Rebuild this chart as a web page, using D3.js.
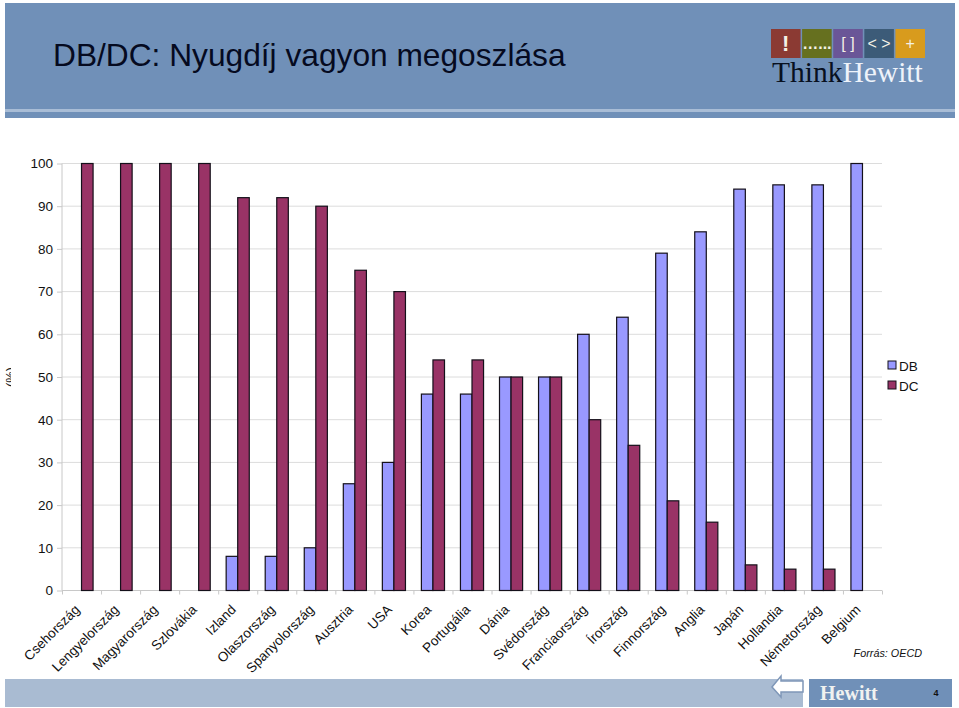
<!DOCTYPE html>
<html>
<head>
<meta charset="utf-8">
<script src="https://cdn.jsdelivr.net/npm/d3@7"></script>
<style>
  html, body { margin: 0; padding: 0; background: #fff; }
  text { font-family: "Liberation Sans", Arial, sans-serif; }
</style>
</head>
<body>
<div id="chart"></div>
<script>
// chart data
const countries = ["Csehország", "Lengyelország", "Magyarország", "Szlovákia", "Izland", "Olaszország",
  "Spanyolország", "Ausztria", "USA", "Korea", "Portugália", "Dánia", "Svédország", "Franciaország",
  "Írország", "Finnország", "Anglia", "Japán", "Hollandia", "Németország", "Belgium"];
const dbValues = [0, 0, 0, 0, 8, 8, 10, 25, 30, 46, 46, 50, 50, 60, 64, 79, 84, 94, 95, 95, 100];
const dcValues = [100, 100, 100, 100, 92, 92, 90, 75, 70, 54, 54, 50, 50, 40, 34, 21, 16, 6, 5, 5, 0];
const yTicks = [0, 10, 20, 30, 40, 50, 60, 70, 80, 90, 100];
const seriesNames = ["DB", "DC"];
const seriesColors = ["#9999ff", "#993366"];
const logoMarks = ["!", "…...", "[ ]", "< >", "+"];
const logoColors = ["#8b3a33", "#66701f", "#6a5697", "#3c5b78", "#d89b1d"];

const width = 959, height = 708;
const margin = { top: 163.5, right: 77, bottom: 117.5, left: 62 };
const labelFont = 13.5;

const svg = d3.select("#chart").append("svg")
  .attr("width", width)
  .attr("height", height)
  .style("display", "block");

// slide header
svg.append("rect").attr("x", 5).attr("y", 3).attr("width", 950).attr("height", 115).attr("fill", "#7090b8");
svg.append("rect").attr("x", 5).attr("y", 109).attr("width", 950).attr("height", 3).attr("fill", "#a9bdd6");
svg.append("text").attr("x", 53).attr("y", 66)
  .attr("font-size", 31.7).attr("fill", "#050a20")
  .text("DB/DC: Nyugdíj vagyon megoszlása");

// logo
const logoX = d3.scaleBand().domain(d3.range(logoMarks.length)).range([771, 925]).paddingInner(0.05);
const logo = svg.append("g");
logo.selectAll("rect").data(logoMarks).enter().append("rect")
  .attr("x", (d, i) => logoX(i))
  .attr("y", 29)
  .attr("width", logoX.bandwidth())
  .attr("height", 29)
  .attr("fill", (d, i) => logoColors[i]);
logo.selectAll("text").data(logoMarks).enter().append("text")
  .attr("x", (d, i) => logoX(i) + logoX.bandwidth() / 2)
  .attr("y", (d, i) => i == 0 ? 51 : 49)
  .attr("text-anchor", "middle")
  .attr("fill", "#f4f1e6")
  .attr("font-size", (d, i) => i == 0 ? 22 : 16)
  .attr("font-weight", (d, i) => i < 2 ? "bold" : "normal")
  .text(d => d);
const brand = svg.append("text").attr("x", 772).attr("y", 82)
  .attr("font-size", 29.5).style("font-family", "Liberation Serif");
brand.append("tspan").attr("fill", "#08101f").text("Think");
brand.append("tspan").attr("fill", "#eef3fa").text("Hewitt");

// scales
const x = d3.scaleBand().domain(countries).range([margin.left, width - margin.right]);
const xEdges = d3.scaleLinear().domain([0, countries.length]).range([margin.left, width - margin.right]);
const y = d3.scaleLinear().domain([0, 100]).range([height - margin.bottom, margin.top]);
const inner = d3.scaleBand().domain(seriesNames).range([0, x.bandwidth()]).paddingInner(0).paddingOuter(0.69);

// gridlines
svg.append("g").selectAll("line").data(yTicks.slice(1)).enter().append("line")
  .attr("x1", margin.left).attr("x2", width - margin.right)
  .attr("y1", d => y(d)).attr("y2", d => y(d))
  .attr("stroke", "#dcdcdc").attr("stroke-width", 1);

// axes
const yAxis = svg.append("g")
  .attr("transform", `translate(${margin.left},0)`)
  .call(d3.axisLeft(y).tickValues(yTicks).tickSize(5).tickPadding(4));
yAxis.selectAll("path,line").attr("stroke", "#c8c8c8");
yAxis.selectAll("text").attr("font-size", labelFont).attr("fill", "#111")
  .style("font-family", "Liberation Sans");
yAxis.select(".domain").attr("d", `M0,${y(100)}V${y(0)}`);

const xTicks = svg.append("g")
  .attr("transform", `translate(0,${y(0)})`)
  .call(d3.axisBottom(xEdges).tickValues(d3.range(countries.length + 1)).tickSize(4).tickFormat(""));
xTicks.selectAll("path,line").attr("stroke", "#c8c8c8");
xTicks.select(".domain").attr("d", `M${margin.left},0H${width - margin.right}`);

const xLabels = svg.append("g")
  .attr("transform", `translate(0,${y(0)})`)
  .call(d3.axisBottom(x).tickSize(0));
xLabels.select(".domain").remove();
xLabels.selectAll("text")
  .attr("font-size", labelFont).attr("fill", "#111")
  .style("font-family", "Liberation Sans")
  .attr("text-anchor", "end")
  .attr("dy", 0).attr("y", 0).attr("x", 0)
  .attr("transform", "translate(-1,20) rotate(-45)");

// bars
[dbValues, dcValues].forEach((values, s) => {
  svg.append("g").selectAll("rect")
    .data(values.map((v, i) => ({ name: countries[i], value: v })).filter(d => d.value > 0))
    .enter()
    .append("rect")
      .attr("x", d => x(d.name) + inner(seriesNames[s]))
      .attr("y", d => y(d.value))
      .attr("width", inner.bandwidth())
      .attr("height", d => y(0) - y(d.value))
      .attr("fill", seriesColors[s])
      .attr("stroke", "#14101a")
      .attr("stroke-width", 1.2);
});

// legend
const legend = svg.append("g").selectAll("g").data(seriesNames).enter().append("g")
  .attr("transform", (d, i) => `translate(888,${361 + i * 20})`);
legend.append("rect").attr("width", 8).attr("height", 8)
  .attr("fill", (d, i) => seriesColors[i]).attr("stroke", "#14101a");
legend.append("text").attr("x", 11).attr("y", 9.5)
  .attr("font-size", labelFont).attr("fill", "#111").text(d => d);

// axis title, most of it is hidden in the original slide
svg.append("defs").append("clipPath").attr("id", "cut")
  .append("rect").attr("x", 3).attr("y", 365).attr("width", 8).attr("height", 24);
svg.append("g").attr("clip-path", "url(#cut)")
  .append("text")
  .attr("transform", "translate(15,377) rotate(-90)")
  .attr("text-anchor", "middle")
  .attr("font-size", 13).attr("fill", "#222")
  .text("(%)");

// source note
svg.append("text").attr("x", 922).attr("y", 657)
  .attr("text-anchor", "end").attr("font-size", 10.8).attr("font-style", "italic").attr("fill", "#111")
  .text("Forrás: OECD");

// footer
svg.append("rect").attr("x", 5).attr("y", 679).attr("width", 798).attr("height", 28).attr("fill", "#a9bbd2");
svg.append("rect").attr("x", 809).attr("y", 679).attr("width", 143).attr("height", 28).attr("fill", "#7090b8");
svg.append("path")
  .attr("d", d3.line()([[772, 687], [781, 676], [781, 681], [803, 681], [803, 692], [781, 692], [781, 697]]) + "Z")
  .attr("fill", "#fff").attr("stroke", "#7f97b8").attr("stroke-width", 1.5);
svg.append("text").attr("x", 820).attr("y", 700)
  .attr("font-size", 20).attr("font-weight", "bold").attr("fill", "#f0f2f0").style("font-family", "Liberation Serif")
  .text("Hewitt");
svg.append("text").attr("x", 936).attr("y", 696)
  .attr("text-anchor", "middle").attr("font-size", 9).attr("font-weight", "bold").attr("fill", "#111")
  .text("4");
</script>
</body>
</html>
